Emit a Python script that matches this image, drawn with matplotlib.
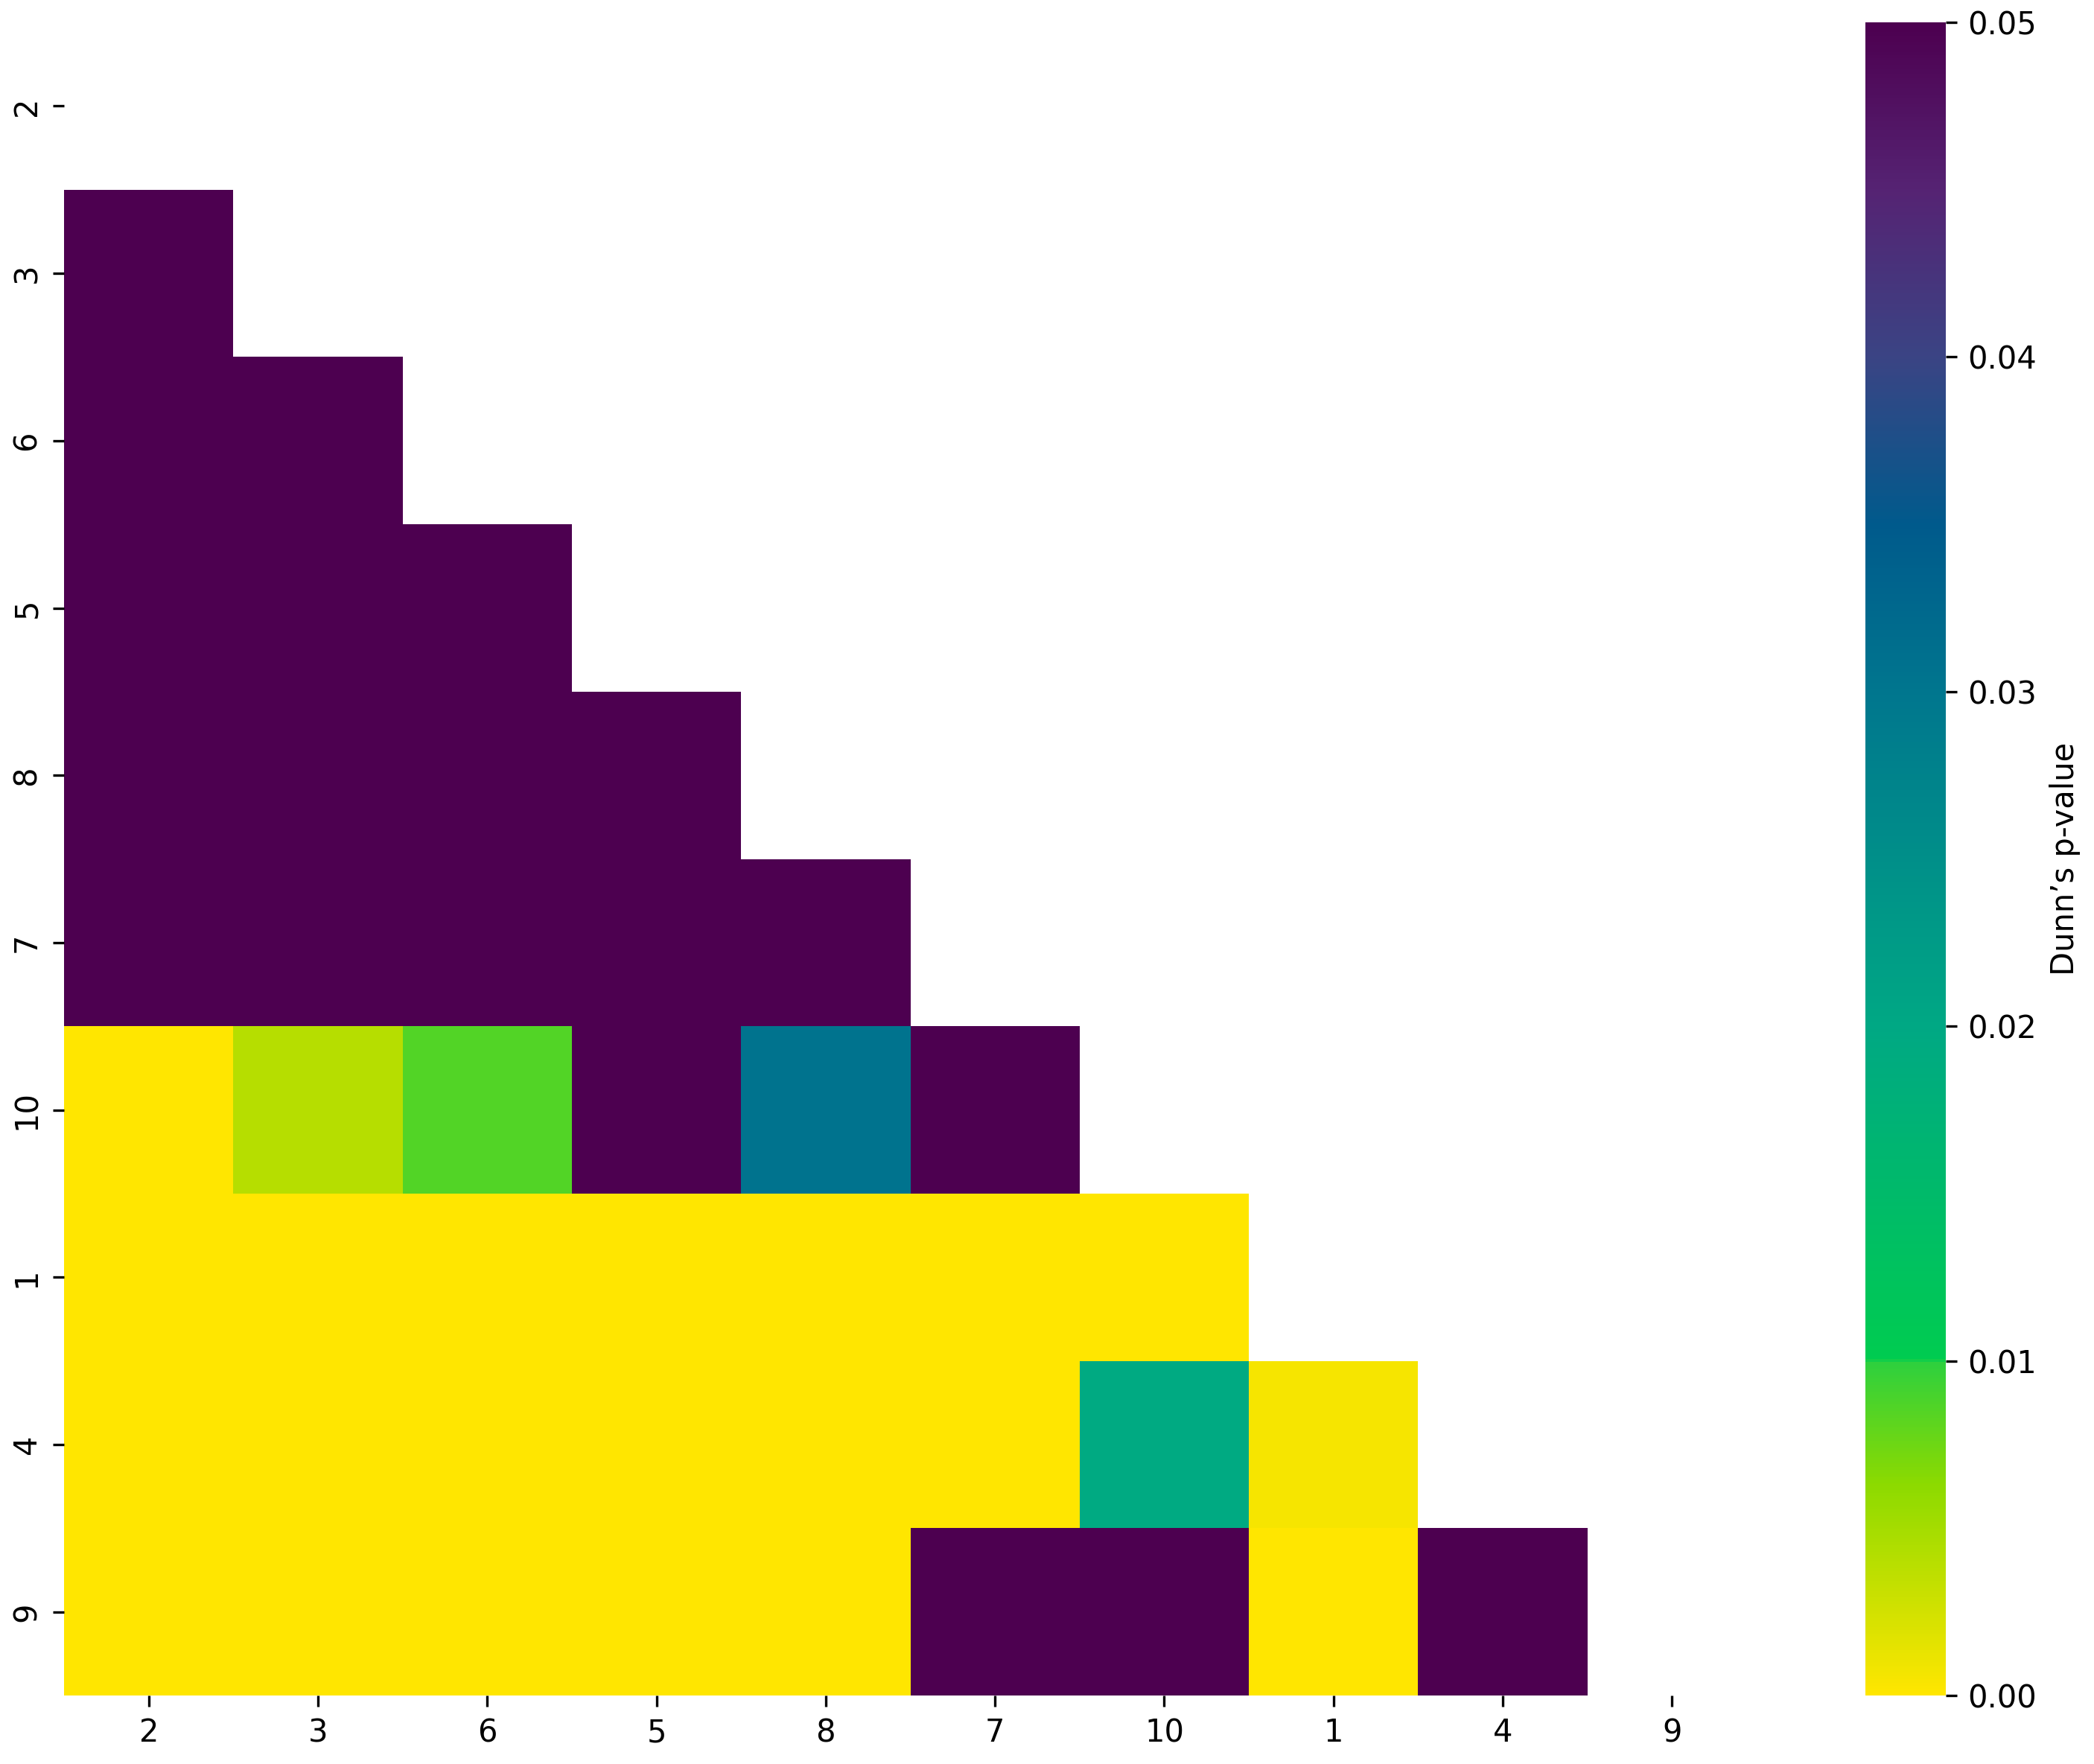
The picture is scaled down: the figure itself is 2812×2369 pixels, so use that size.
import numpy as np
import matplotlib
matplotlib.use('Agg')
import matplotlib.pyplot as plt
import seaborn as sns
from matplotlib.colors import LinearSegmentedColormap

# group order used on both axes
groups = ['2', '3', '6', '5', '8', '7', '10', '1', '4', '9']

# Dunn's p-values, lower triangle (row group vs column group); 1.0 = not significant
p_row_3 = [1.0]
p_row_6 = [1.0, 1.0]
p_row_5 = [1.0, 1.0, 1.0]
p_row_8 = [1.0, 1.0, 1.0, 1.0]
p_row_7 = [1.0, 1.0, 1.0, 1.0, 1.0]
p_row_10 = [0.0, 0.0041, 0.0085, 1.0, 0.0305, 1.0]
p_row_1 = [0.0, 0.0, 0.0, 0.0, 0.0, 0.0, 0.0]
p_row_4 = [0.0, 0.0, 0.0, 0.0, 0.0, 0.0, 0.0196, 0.00055]
p_row_9 = [0.0, 0.0, 0.0, 0.0, 0.0, 1.0, 1.0, 0.0, 1.0]
rows = [[], p_row_3, p_row_6, p_row_5, p_row_8, p_row_7,
        p_row_10, p_row_1, p_row_4, p_row_9]

n = len(groups)
pvals = np.full((n, n), np.nan)
for i, r in enumerate(rows):
    pvals[i, :len(r)] = r
mask = np.triu(np.ones((n, n), dtype=bool))

# custom yellow -> green -> teal -> purple map
nodes = [(0.0, (255, 230, 0)), (0.126, (140, 218, 0)), (0.199, (45, 208, 62)),
         (0.2, (0, 204, 80)), (0.4, (0, 168, 132)), (0.6, (0, 118, 142)),
         (0.7, (0, 90, 140)), (0.8, (58, 68, 132)), (0.9, (85, 35, 115)),
         (1.0, (77, 0, 80))]
cmap = LinearSegmentedColormap.from_list(
    'dunn', [(t, tuple(c / 255 for c in rgb)) for t, rgb in nodes], N=512)

fig = plt.figure(figsize=(2812 / 300, 2369 / 300), dpi=300)
ax = fig.add_axes([0.0306, 0.0388, 0.8083, 0.9485])
cax = fig.add_axes([0.8908, 0.0388, 0.0384, 0.9485])

sns.heatmap(pvals, mask=mask, cmap=cmap, vmin=0, vmax=0.05, ax=ax, cbar_ax=cax,
            xticklabels=groups, yticklabels=groups,
            cbar_kws={'label': 'Dunn\u2019s p-value'})
ax.tick_params(axis='both', labelsize=10)
ax.set_yticklabels(groups, rotation=90, va='center')
ax.set_xticklabels(groups, rotation=0)
cax.tick_params(labelsize=10)
cax.set_ylabel('Dunn\u2019s p-value', fontsize=10)
cax.set_yticks([0.0, 0.01, 0.02, 0.03, 0.04, 0.05])

fig.savefig('out.png', dpi=300)
